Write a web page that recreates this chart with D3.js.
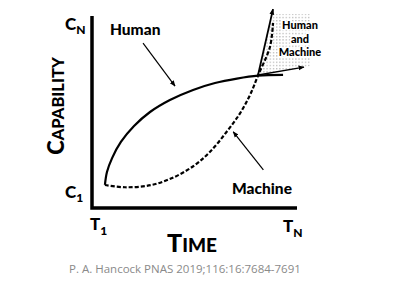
<!DOCTYPE html>
<html><head><meta charset="utf-8">
<script src="https://cdn.jsdelivr.net/npm/d3@7"></script>
<style>
html,body{margin:0;padding:0;background:#fff;}
svg{display:block;}
.lbl{font-family:Lato,"Liberation Sans",sans-serif;font-weight:900;fill:#000;}
</style></head>
<body>
<script>
// ---- data (time 0..10, capability 0..10) ----
const humanT   = [0.63, 0.73, 0.98, 1.41, 2.05, 2.83, 3.80, 4.93, 6.00, 7.07, 8.10, 9.32];
const humanC   = [1.20, 1.875, 2.60, 3.44, 4.27, 5.00, 5.625, 6.15, 6.51, 6.74, 6.89, 6.93];
const machineT = [0.63, 1.61, 2.91, 4.05, 5.02, 5.76, 6.57, 7.22, 7.71, 8.11, 8.68, 8.83];
const machineC = [1.20, 1.08, 1.20, 1.63, 2.24, 2.93, 3.97, 4.93, 5.89, 6.93, 8.39, 9.64];
const jointUpT = [8.10, 8.83];   const jointUpC = [6.93, 10.36];
const jointRtT = [8.10, 10.34];  const jointRtC = [6.93, 7.34];
const humanPtrT = [2.49, 4.05];  const humanPtrC = [8.59, 6.35];
const machPtrT  = [8.36, 6.89];  const machPtrC  = [1.98, 3.97];
const jointAreaT = [8.10, 8.78, 10.68, 10.68];
const jointAreaC = [6.93, 10.10, 10.10, 7.40];
const timeTicks = [0, 10];        const timeTickLabels = [["T","1"],["T","N"]];
const capTicks  = [0.85, 9.6];    const capTickLabels  = [["C","1"],["C","N"]];
const citation = "P. A. Hancock PNAS 2019;116:16:7684-7691";

const W = 400, H = 290;
const svg = d3.select("body").append("svg").attr("width", W).attr("height", H);
const x = d3.scaleLinear().domain([0, 10]).range([92, 297]);
const y = d3.scaleLinear().domain([0, 10]).range([208, 16]);
const pts = (a, b) => a.map((v, i) => [x(v), y(b[i])]);

const defs = svg.append("defs");
const pat = defs.append("pattern").attr("id", "dots").attr("patternUnits", "userSpaceOnUse")
  .attr("width", 3.2).attr("height", 3.2);
pat.append("rect").attr("x", 1).attr("y", 1).attr("width", 1).attr("height", 1).attr("fill", "#888");
defs.append("marker").attr("id", "ah").attr("viewBox", "0 0 10 10").attr("refX", 9).attr("refY", 5)
  .attr("markerWidth", 6).attr("markerHeight", 6).attr("markerUnits", "userSpaceOnUse").attr("orient", "auto")
  .append("path").attr("d", "M0,1 L10,5 L0,9 Z").attr("fill", "#000");

// shaded joint region
svg.append("path").attr("d", d3.line()(pts(jointAreaT, jointAreaC)) + "Z").attr("fill", "url(#dots)");

// axes
svg.append("path")
  .attr("d", `M${x(0)},${y(10)} V${y(0)} H${x(10)}`)
  .attr("fill", "none").attr("stroke", "#000").attr("stroke-width", 3.5).attr("stroke-linejoin", "miter");

const curve = d3.line().curve(d3.curveCatmullRom.alpha(0.5));
svg.append("path").attr("d", curve(pts(humanT, humanC)))
  .attr("fill", "none").attr("stroke", "#000").attr("stroke-width", 2.2);
svg.append("path").attr("d", curve(pts(machineT, machineC)))
  .attr("fill", "none").attr("stroke", "#000").attr("stroke-width", 2.2).attr("stroke-dasharray", "4,2");

const arrow = (t, c, w) => svg.append("path").attr("d", d3.line()(pts(t, c)))
  .attr("stroke", "#000").attr("stroke-width", w).attr("fill", "none").attr("marker-end", "url(#ah)");
arrow(jointUpT, jointUpC, 1.8);
arrow(jointRtT, jointRtC, 1.4);
arrow(humanPtrT, humanPtrC, 1.2);
arrow(machPtrT, machPtrC, 1.2);

// labels
svg.append("text").attr("class", "lbl").attr("x", 110).attr("y", 35).attr("font-size", 15.5).text("Human");
svg.append("text").attr("class", "lbl").attr("x", 262).attr("y", 194).attr("text-anchor", "middle")
  .attr("font-size", 15.5).text("Machine");
const hm = svg.append("text").attr("class", "lbl").attr("text-anchor", "middle").attr("font-size", 11)
  .attr("stroke", "#fff").attr("stroke-width", 3).attr("paint-order", "stroke").attr("stroke-linejoin", "round");
["Human", "and", "Machine"].forEach((s, i) => hm.append("tspan").attr("x", 300).attr("y", 29 + i * 13.5).text(s));

// tick labels
timeTicks.forEach((v, i) => {
  const t = svg.append("text").attr("class", "lbl").attr("x", x(v) + (i ? -14 : -2)).attr("y", i ? 232 : 230).attr("font-size", 17);
  t.append("tspan").text(timeTickLabels[i][0]);
  t.append("tspan").attr("font-size", 12).attr("dy", 5).text(timeTickLabels[i][1]);
});
capTicks.forEach((v, i) => {
  const t = svg.append("text").attr("class", "lbl").attr("x", 65).attr("y", y(v) + 6).attr("font-size", 17);
  t.append("tspan").text(capTickLabels[i][0]);
  t.append("tspan").attr("font-size", 12).attr("dy", 4).text(capTickLabels[i][1]);
});

// axis titles (small caps)
const cap = svg.append("text").attr("class", "lbl").attr("text-anchor", "middle")
  .attr("transform", "translate(64,106) rotate(-90)").attr("font-size", 22);
cap.append("tspan").text("C");
cap.append("tspan").attr("font-size", 16.5).text("APABILITY");
const tm = svg.append("text").attr("class", "lbl").attr("text-anchor", "middle")
  .attr("x", 192).attr("y", 252).attr("font-size", 25);
tm.append("tspan").text("T");
tm.append("tspan").attr("font-size", 19).text("IME");

svg.append("text").attr("x", 69).attr("y", 273).attr("font-family", "'Open Sans',sans-serif")
  .attr("font-size", 11.5).attr("fill", "#8a8a8a").text(citation);
</script>
</body></html>
